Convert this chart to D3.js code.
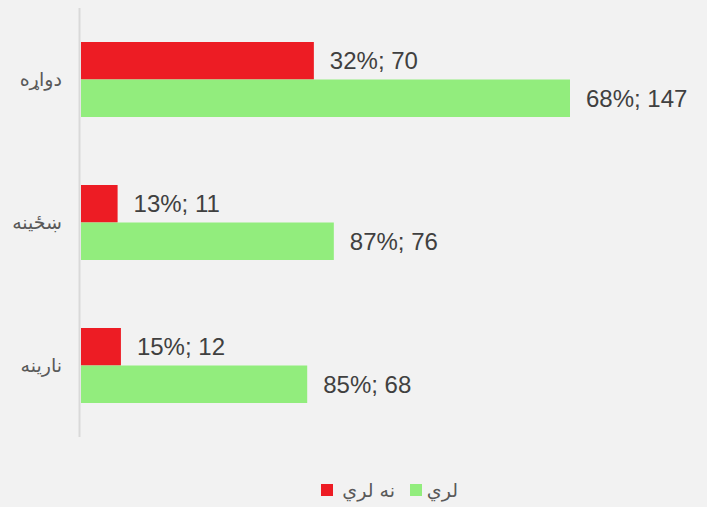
<!DOCTYPE html>
<html lang="ps">
<head>
  <meta charset="utf-8">
  <title>Bar Chart</title>
  <script src="https://d3js.org/d3.v7.min.js"></script>
  <style>
    body { margin: 0; background: #f2f2f2; }
    svg { display: block; }
    .value-label { font-family: Arial, "Liberation Sans", sans-serif; font-size: 24px; fill: #404040; }
    .cat-label { font-family: "DejaVu Sans", "Noto Sans", sans-serif; font-size: 19px; fill: #595959; }
    .legend-text { font-family: "DejaVu Sans", "Noto Sans", sans-serif; font-size: 19px; fill: #595959; }
  </style>
</head>
<body>
<script>
  // categories top to bottom
  const categories = ["دواړه", "ښځينه", "نارينه"];
  // series: red = نه لري (no), green = لري (yes)
  const seriesNames = ["نه لري", "لري"];
  const seriesColors = ["#ed1c24", "#92ed7d"];
  const noCounts = [70, 11, 12];
  const noPercents = [32, 13, 15];
  const yesCounts = [147, 76, 68];
  const yesPercents = [68, 87, 85];

  const width = 707, height = 507;
  const svg = d3.select("body").append("svg")
    .attr("width", width)
    .attr("height", height);

  svg.append("rect").attr("width", width).attr("height", height).attr("fill", "#f2f2f2");

  const x = d3.scaleLinear().domain([0, 147]).range([81, 570]);

  const y = d3.scaleBand()
    .domain(categories)
    .range([8, 437])
    .paddingInner(0.4755)
    .paddingOuter(0.2378);

  const ySeries = d3.scaleBand()
    .domain(seriesNames)
    .range([0, y.bandwidth()]);

  const rows = categories.map((c, i) => ({
    cat: c,
    values: [
      { s: seriesNames[0], count: noCounts[i], pct: noPercents[i], color: seriesColors[0] },
      { s: seriesNames[1], count: yesCounts[i], pct: yesPercents[i], color: seriesColors[1] }
    ]
  }));

  const groups = svg.selectAll(".group")
    .data(rows)
    .enter().append("g")
    .attr("transform", d => "translate(0," + y(d.cat) + ")");

  groups.selectAll("rect")
    .data(d => d.values)
    .enter().append("rect")
    .attr("x", x(0))
    .attr("y", d => ySeries(d.s))
    .attr("width", d => x(d.count) - x(0))
    .attr("height", ySeries.bandwidth())
    .attr("fill", d => d.color);

  groups.selectAll(".value-label")
    .data(d => d.values)
    .enter().append("text")
    .attr("class", "value-label")
    .attr("x", d => x(d.count) + 16)
    .attr("y", d => ySeries(d.s) + ySeries.bandwidth() / 2)
    .attr("dy", "0.36em")
    .text(d => d.pct + "%; " + d.count);

  // category labels
  svg.selectAll(".cat-label")
    .data(categories)
    .enter().append("text")
    .attr("class", "cat-label")
    .attr("x", 62)
    .attr("y", d => y(d) + y.bandwidth() / 2)
    .attr("dy", "0.35em")
    .attr("text-anchor", "end")
    .text(d => d);

  // vertical axis line
  svg.append("line")
    .attr("x1", 79.5).attr("x2", 79.5)
    .attr("y1", 8).attr("y2", 437)
    .attr("stroke", "#d9d9d9")
    .attr("stroke-width", 2);

  // legend (right to left: لري green, then نه لري red)
  const legend = [
    { name: seriesNames[1], color: seriesColors[1], sq: 410, tx: 458 },
    { name: seriesNames[0], color: seriesColors[0], sq: 321, tx: 395 }
  ];
  const lg = svg.selectAll(".legend")
    .data(legend)
    .enter().append("g");
  lg.append("rect")
    .attr("x", d => d.sq)
    .attr("y", 484)
    .attr("width", 12)
    .attr("height", 12)
    .attr("fill", d => d.color);
  lg.append("text")
    .attr("class", "legend-text")
    .attr("x", d => d.tx)
    .attr("y", 490)
    .attr("dy", "0.35em")
    .attr("text-anchor", "end")
    .text(d => d.name);
</script>
</body>
</html>
